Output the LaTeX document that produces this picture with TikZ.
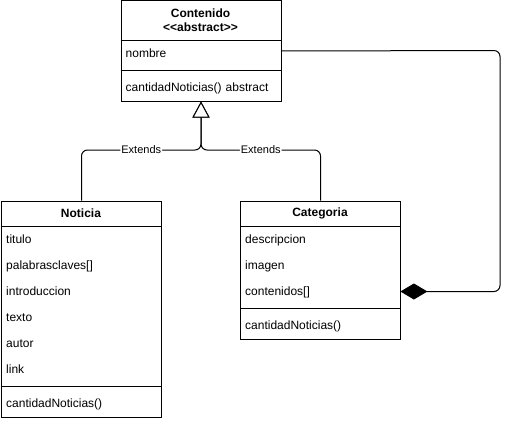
\documentclass[tikz,border=0pt]{standalone}
\usepackage{fontspec}
\newfontfamily\uml{Liberation Sans}
\usetikzlibrary{arrows.meta}
\begin{document}
\begin{tikzpicture}[x=1pt,y=-1pt,
  every node/.style={font=\uml\fontsize{12}{14}\selectfont},
  box/.style={draw,line width=1pt,minimum width=160pt,inner sep=0pt,anchor=north west},
  hdr/.style={font=\uml\bfseries\fontsize{12}{14}\selectfont,align=center,inner sep=0pt},
  row/.style={anchor=west,text width=150pt,inner xsep=5pt,inner ysep=0pt,align=left,text height=10.9pt,text depth=2.5pt},
  sep/.style={line width=1pt},
  lbl/.style={fill=white,inner sep=1pt,font=\uml\fontsize{11}{13}\selectfont},
  ext/.style={line width=1pt,rounded corners=6pt,-{Triangle[open,length=16pt,width=17pt,fill=white]}},
  comp/.style={line width=1pt,rounded corners=6pt,{Diamond[length=27pt,width=16pt,fill=black]}-}
]
\useasboundingbox (0,0) rectangle (527,420);

% Contenido
\node[box,minimum height=100pt] (contenido) at (120.5,0.5) {};
\node[hdr] (contenidoT) at (200.5,20.5) {Contenido\\<<abstract>>};
\draw[sep] (contenido.west |- 0,40.5) -- (contenido.east |- 0,40.5);
\node[row] (cnombre) at (120.5,53.5) {nombre};
\draw[sep] (contenido.west |- 0,70.5) -- (contenido.east |- 0,70.5);
\node[row] (cmetodo) at (120.5,87.5) {cantidadNoticias() abstract};

% Noticia
\node[box,minimum height=216pt] (noticia) at (1,200.5) {};
\node[hdr] (noticiaT) at (81,213.5) {Noticia};
\draw[sep] (noticia.west |- 0,226.5) -- (noticia.east |- 0,226.5);
\node[row] (ntitulo) at (1,239.5) {titulo};
\node[row] (npalabras) at (1,265.5) {palabrasclaves[]};
\node[row] (nintro) at (1,291.5) {introduccion};
\node[row] (ntexto) at (1,317.5) {texto};
\node[row] (nautor) at (1,343.5) {autor};
\node[row] (nlink) at (1,369.5) {link};
\draw[sep] (noticia.west |- 0,386.5) -- (noticia.east |- 0,386.5);
\node[row] (nmetodo) at (1,403.5) {cantidadNoticias()};

% Categoria
\node[box,minimum height=138pt] (categoria) at (240,200.5) {};
\node[hdr] (categoriaT) at (320,213.5) {Categoria};
\draw[sep] (categoria.west |- 0,226.5) -- (categoria.east |- 0,226.5);
\node[row] (kdesc) at (240,239.5) {descripcion};
\node[row] (kimagen) at (240,265.5) {imagen};
\node[row] (kcont) at (240,291.5) {contenidos[]};
\draw[sep] (categoria.west |- 0,308.5) -- (categoria.east |- 0,308.5);
\node[row] (kmetodo) at (240,325.5) {cantidadNoticias()};

% Generalisation
\coordinate (j) at (contenido.south |- 0,150);
\draw[ext] (noticia.north) |- node[lbl,pos=0.75] (lext1) {Extends} (j) -- (contenido.south);
\draw[ext] (categoria.north) |- node[lbl,pos=0.75] (lext2) {Extends} (j) -- (contenido.south);

% Composition
\coordinate (cr) at (500,50.5);
\draw[comp] (kcont.east) -| (cr) -- (contenido.east);
\end{tikzpicture}
\end{document}
